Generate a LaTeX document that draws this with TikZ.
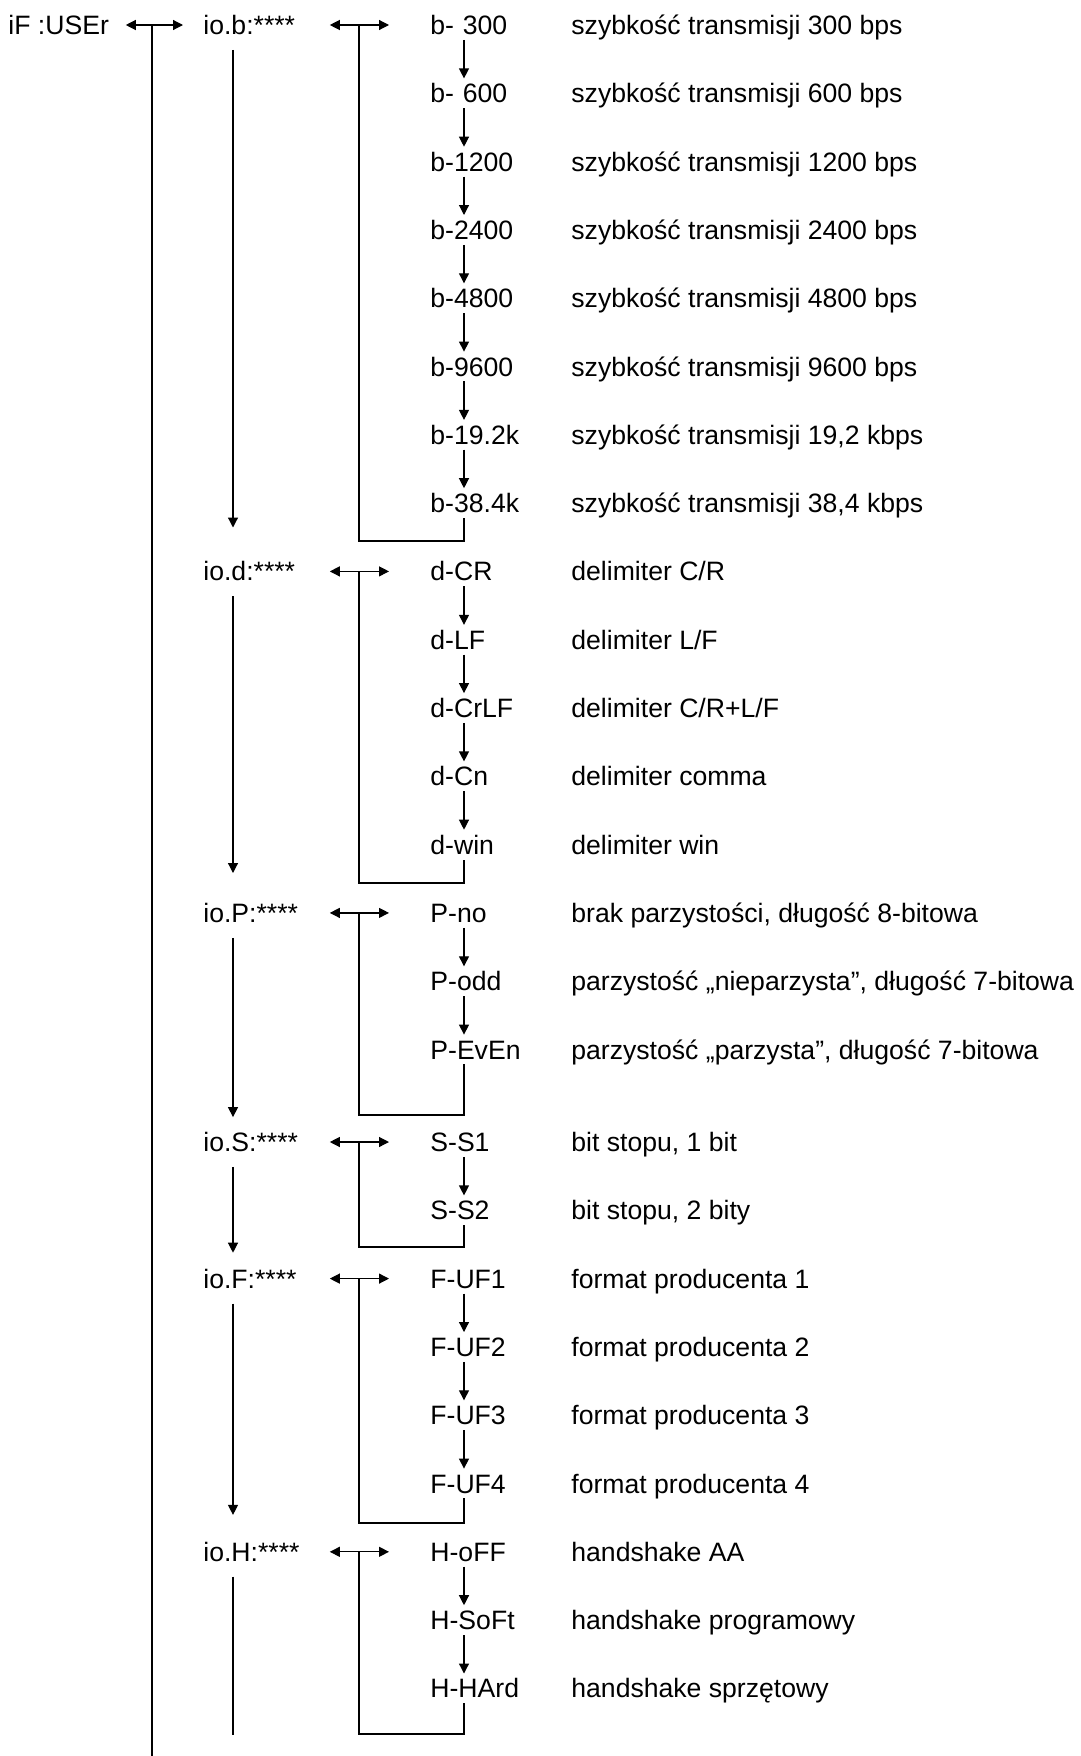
\documentclass[tikz,border=0pt]{standalone}
\usepackage{fontspec}
\setmainfont{Liberation Sans}
\usetikzlibrary{arrows.meta,calc}
\tikzset{
  lbl/.style={anchor=west,inner xsep=0pt,inner ysep=2.5pt,text height=9.5pt,text depth=0pt,font=\fontsize{13.3}{16}\selectfont},
  menu/.style={lbl,text width=49pt,align=left},
  opt/.style={lbl,text width=46pt,align=left},
  wire/.style={line width=0.6pt},
  link/.style={wire,-{Triangle[length=5pt,width=5pt]}},
  both/.style={wire,{Triangle[length=5pt,width=5pt]}-{Triangle[length=5pt,width=5pt]}}
}

\begin{document}
\begin{tikzpicture}[x=0.5pt,y=-0.5pt]
  \path[fill=white,use as bounding box] (0,0) rectangle (1081,1756);
  \coordinate (c0) at (152,0);
  \coordinate (c1) at (233,0);
  \coordinate (c2) at (359,0);
  \coordinate (c3) at (464,0);

  \node[lbl] (user) at (8,25) {iF :USEr};

  % menu entries
  \foreach \n/\t/\y in {iob/io.b/25, iod/io.d/571.4, iop/io.P/912.9, ios/io.S/1142, iof/io.F/1278.6, ioh/io.H/1551.8}
    \node[menu] (\n) at (203,\y) {\t:****};

  % settings and their meaning
  \foreach \n/\y/\t/\d in {
    b1/25/b- 300/szybkość transmisji 300 bps,
    b2/93.3/b- 600/szybkość transmisji 600 bps,
    b3/161.6/b-1200/szybkość transmisji 1200 bps,
    b4/229.9/b-2400/szybkość transmisji 2400 bps,
    b5/298.2/b-4800/szybkość transmisji 4800 bps,
    b6/366.5/b-9600/szybkość transmisji 9600 bps,
    b7/434.8/b-19.2k/{szybkość transmisji 19,2 kbps},
    b8/503.1/b-38.4k/{szybkość transmisji 38,4 kbps},
    d1/571.4/d-CR/{delimiter C/R},
    d2/639.7/d-LF/{delimiter L/F},
    d3/708/d-CrLF/{delimiter C/R+L/F},
    d4/776.3/d-Cn/delimiter comma,
    d5/844.6/d-win/delimiter win,
    p1/912.9/P-no/{brak parzystości, długość 8-bitowa},
    p2/981.2/P-odd/{parzystość „nieparzysta”, długość 7-bitowa},
    p3/1049.5/P-EvEn/{parzystość „parzysta”, długość 7-bitowa},
    s1/1142/S-S1/{bit stopu, 1 bit},
    s2/1210.3/S-S2/{bit stopu, 2 bity},
    f1/1278.6/F-UF1/format producenta 1,
    f2/1346.9/F-UF2/format producenta 2,
    f3/1415.2/F-UF3/format producenta 3,
    f4/1483.5/F-UF4/format producenta 4,
    h1/1551.8/H-oFF/handshake AA,
    h2/1620.1/H-SoFt/handshake programowy,
    h3/1688.4/H-HArd/handshake sprzętowy} {
    \node[opt] (\n) at (430,\y) {\t};
    \node[lbl] (\n-txt) at (571,\y) {\d};
  }

  % trunk
  \draw[both,shorten <=8.25pt,shorten >=10pt] (user) -- (iob);
  \draw[wire] (user -| c0) -- ++(0,1731);

  % menu to menu
  \foreach \a/\b/\s in {iob/iod/14.5pt, iod/iop/12.5pt, iop/ios/5pt, ios/iof/5.5pt, iof/ioh/11pt}
    \draw[link,shorten <=5pt,shorten >=\s] (\a.south -| c1) -- (\b.north -| c1);
  \draw[wire,shorten <=5pt] (ioh.south -| c1) -- ++(0,168);

  % menu to first setting
  \foreach \a/\b in {iob/b1, iod/d1, iop/p1, ios/s1, iof/f1, ioh/h1}
    \draw[both,shorten <=14pt,shorten >=20.5pt] (\a) -- (\b);

  % setting to setting
  \foreach \a/\b in {b1/b2, b2/b3, b3/b4, b4/b5, b5/b6, b6/b7, b7/b8, d1/d2, d2/d3, d3/d4, d4/d5, p1/p2, p2/p3, s1/s2, f1/f2, f2/f3, f3/f4, h1/h2, h2/h3}
    \draw[link] (\a.south -| c3) -- (\b.north -| c3);

  % back to the start
  \foreach \m/\l/\h in {iob/b8/516, iod/d5/311.6, iop/p3/202.1, ios/s2/105, iof/f4/244.4, ioh/h3/182.2}
    \draw[wire] (\m -| c2) -- ++(0,\h) -| (\l.south -| c3);
\end{tikzpicture}
\end{document}
